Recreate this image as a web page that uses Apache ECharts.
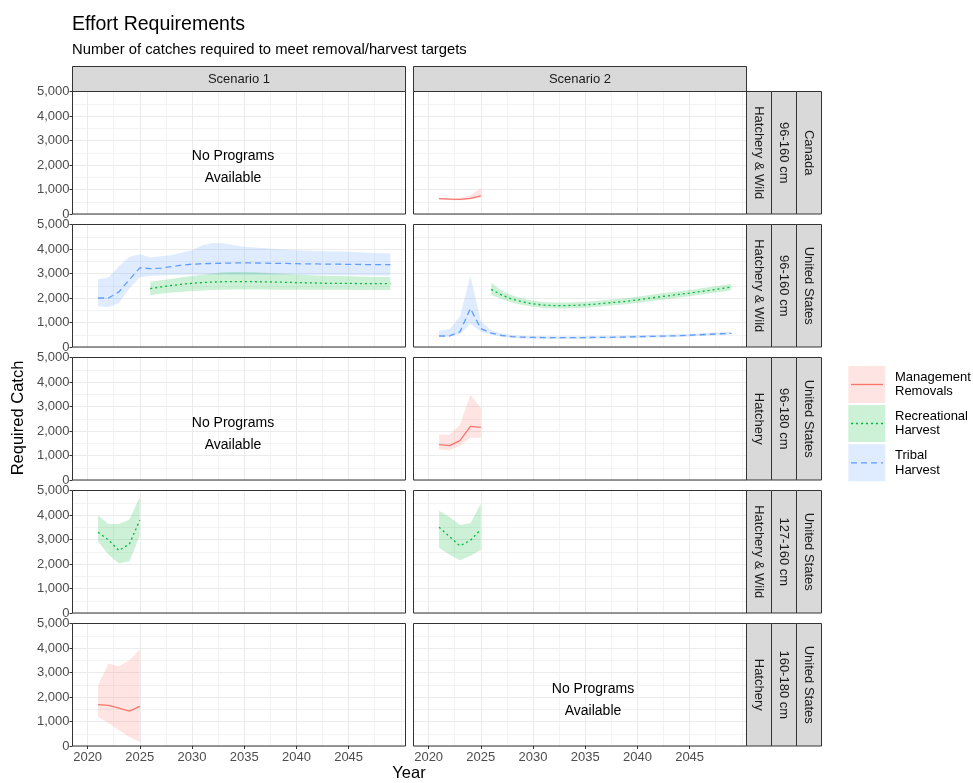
<!DOCTYPE html>
<html><head><meta charset="utf-8">
<script src="https://cdn.jsdelivr.net/npm/echarts@6/dist/echarts.min.js"></script>
<style>html,body{margin:0;padding:0;background:#fff}#c{width:973px;height:783px}</style>
</head><body><div id="c"></div><script>
// ---------- DATA ----------
const scenarios = ['Scenario 1', 'Scenario 2'];
const rowStrips = [
  ['Hatchery & Wild', '96-160 cm', 'Canada'],
  ['Hatchery & Wild', '96-160 cm', 'United States'],
  ['Hatchery', '96-180 cm', 'United States'],
  ['Hatchery & Wild', '127-160 cm', 'United States'],
  ['Hatchery', '160-180 cm', 'United States']
];
const xTickLabels = [2020, 2025, 2030, 2035, 2040, 2045];
const xMinorBreaks = [2022.5, 2027.5, 2032.5, 2037.5, 2042.5, 2047.5, 2050];
const yTicks = [0, 1000, 2000, 3000, 4000, 5000];

const years2021to2025 = [2021, 2022, 2023, 2024, 2025];
const years2021to2049 = [2021,2022,2023,2024,2025,2026,2027,2028,2029,2030,2031,2032,2033,2034,2035,2036,2037,2038,2039,2040,2041,2042,2043,2044,2045,2046,2047,2048,2049];
const years2026to2049 = [2026,2027,2028,2029,2030,2031,2032,2033,2034,2035,2036,2037,2038,2039,2040,2041,2042,2043,2044,2045,2046,2047,2048,2049];

// Canada 96-160, Scenario 2 - Management Removals
const caS2Mgmt   = [630, 610, 600, 640, 740];
const caS2MgmtHi = [670, 650, 650, 760, 1060];
const caS2MgmtLo = [590, 570, 560, 590, 660];

// US 96-160 H&W, Scenario 1 - Tribal
const us96S1Trib   = [2000,2000,2250,2750,3230,3200,3220,3280,3340,3380,3400,3410,3420,3430,3430,3430,3420,3410,3410,3400,3390,3390,3380,3380,3370,3370,3360,3360,3360];
const us96S1TribHi = [2770,2840,3300,3680,3790,3650,3700,3750,3850,3950,4150,4250,4230,4150,4090,4060,4030,4000,3970,3950,3930,3920,3910,3900,3890,3870,3850,3830,3815];
const us96S1TribLo = [1660,1620,1800,2400,2850,2900,2920,2940,2950,2950,2950,2950,2950,2950,2950,2950,2950,2950,2950,2950,2940,2940,2940,2930,2930,2930,2920,2920,2920];
// US 96-160 H&W, Scenario 1 - Recreational
const us96S1Rec   = [2385,2450,2510,2560,2600,2630,2650,2665,2670,2670,2665,2660,2650,2640,2630,2620,2610,2600,2600,2595,2590,2590,2590,2590];
const us96S1RecHi = [2660,2720,2780,2850,2900,2950,3000,3050,3060,3060,3050,3030,3000,2980,2960,2940,2920,2910,2900,2890,2880,2870,2860,2860];
const us96S1RecLo = [2110,2170,2220,2260,2290,2310,2330,2340,2345,2345,2345,2345,2340,2340,2340,2340,2340,2335,2335,2335,2330,2330,2330,2330];

// US 96-160 H&W, Scenario 2 - Tribal
const us96S2Trib   = [450,450,620,1570,750,570,470,420,400,390,385,380,380,380,385,390,395,400,410,420,430,440,450,460,480,500,520,540,560];
const us96S2TribHi = [660,720,1250,2900,1050,680,560,490,460,450,445,440,440,440,445,450,455,460,470,480,490,500,510,520,540,560,580,600,620];
const us96S2TribLo = [420,420,520,950,620,500,420,370,350,340,335,330,330,330,335,340,345,350,360,370,380,390,400,410,430,450,470,490,510];
// US 96-160 H&W, Scenario 2 - Recreational
const us96S2Rec   = [2350,2120,1950,1840,1760,1710,1690,1690,1700,1720,1750,1790,1830,1870,1920,1980,2040,2090,2150,2200,2260,2320,2380,2450];
const us96S2RecHi = [2620,2300,2100,1980,1890,1840,1820,1820,1830,1850,1880,1920,1960,2000,2050,2110,2170,2220,2280,2330,2390,2450,2510,2580];
const us96S2RecLo = [2120,1960,1810,1710,1640,1590,1570,1570,1580,1600,1630,1670,1710,1750,1800,1860,1910,1960,2020,2070,2130,2190,2250,2320];

// US 96-180 Hatchery, Scenario 2 - Management Removals
const us180S2Mgmt   = [1440, 1400, 1610, 2190, 2150];
const us180S2MgmtHi = [1850, 1850, 2260, 3480, 2940];
const us180S2MgmtLo = [1240, 1210, 1400, 1720, 1720];

// US 127-160 H&W - Recreational
const us127S1Rec   = [3290, 2980, 2550, 2820, 3790];
const us127S1RecHi = [3990, 3630, 3630, 3820, 4730];
const us127S1RecLo = [2920, 2380, 2020, 2110, 3150];
const us127S2Rec   = [3500, 3120, 2740, 2960, 3420];
const us127S2RecHi = [4170, 3920, 3590, 3660, 4460];
const us127S2RecLo = [2650, 2380, 2150, 2340, 2580];

// US 160-180 Hatchery, Scenario 1 - Management Removals
const us160S1Mgmt   = [1690, 1660, 1550, 1420, 1620];
const us160S1MgmtHi = [2480, 3370, 3260, 3500, 3940];
const us160S1MgmtLo = [1190, 940, 640, 370, 160];

const legendNames = ['Management\nRemovals', 'Recreational\nHarvest', 'Tribal\nHarvest'];
const noProgramText = 'No Programs\nAvailable';

// ---------- STYLE / LAYOUT ----------
const FONT = '"Liberation Sans", Arial, Helvetica, sans-serif';
const COLORS = { mgmt: '#F8766D', rec: '#00BA38', trib: '#619CFF' };
const DASH = { mgmt: 'solid', rec: [2, 3], trib: [6, 4] };
const COL_LEFT = [72.5, 413.5];
const COL_W = 333;
const ROW_TOP = [91.5, 224.5, 357.5, 490.5, 623.5];
const ROW_H = 122.5;
const X_MIN = 2018.55, X_MAX = 2050.45;

const panels = [
  { r: 0, c: 0, none: true },
  { r: 0, c: 1, s: [['mgmt', years2021to2025, caS2Mgmt, caS2MgmtLo, caS2MgmtHi]] },
  { r: 1, c: 0, s: [['trib', years2021to2049, us96S1Trib, us96S1TribLo, us96S1TribHi], ['rec', years2026to2049, us96S1Rec, us96S1RecLo, us96S1RecHi]] },
  { r: 1, c: 1, s: [['trib', years2021to2049, us96S2Trib, us96S2TribLo, us96S2TribHi], ['rec', years2026to2049, us96S2Rec, us96S2RecLo, us96S2RecHi]] },
  { r: 2, c: 0, none: true },
  { r: 2, c: 1, s: [['mgmt', years2021to2025, us180S2Mgmt, us180S2MgmtLo, us180S2MgmtHi]] },
  { r: 3, c: 0, s: [['rec', years2021to2025, us127S1Rec, us127S1RecLo, us127S1RecHi]] },
  { r: 3, c: 1, s: [['rec', years2021to2025, us127S2Rec, us127S2RecLo, us127S2RecHi]] },
  { r: 4, c: 0, s: [['mgmt', years2021to2025, us160S1Mgmt, us160S1MgmtLo, us160S1MgmtHi]] },
  { r: 4, c: 1, none: true }
];
const noProgramPos = [[233, 167], [233, 434], [593, 700]];

const grids = [], xAxes = [], yAxes = [], series = [], graphics = [];

panels.forEach((p, i) => {
  const left = COL_LEFT[p.c], top = ROW_TOP[p.r];
  grids.push({ left: left, top: top, width: COL_W, height: ROW_H, show: true,
    backgroundColor: '#fff', borderWidth: 0, containLabel: false });
  const bottom = p.r === 4;
  xAxes.push({ type: 'value', gridIndex: i, min: X_MIN, max: X_MAX, position: 'bottom',
    axisLine: { show: false },
    axisTick: { show: bottom, length: 3, lineStyle: { color: '#333' }, customValues: xTickLabels },
    axisLabel: { show: bottom, customValues: xTickLabels, color: '#4d4d4d', fontSize: 13, margin: 5, fontFamily: FONT,
      formatter: v => String(v) },
    splitLine: { show: true, lineStyle: { color: '#ebebeb', width: 1 } } });
  yAxes.push({ type: 'value', gridIndex: i, min: 0, max: 5000, interval: 1000,
    axisLine: { show: false },
    axisTick: { show: p.c === 0, length: 3, lineStyle: { color: '#333' } },
    axisLabel: { show: p.c === 0, color: '#4d4d4d', fontSize: 13, margin: 3, fontFamily: FONT,
      formatter: v => v.toLocaleString('en-US') },
    splitLine: { show: true, lineStyle: { color: '#ebebeb', width: 1 } },
    minorTick: { show: false, splitNumber: 2 },
    minorSplitLine: { show: true, lineStyle: { color: '#f0f0f0', width: 0.8 } } });
  (p.s || []).forEach(([kind, yrs, mid, lo, hi]) => {
    const col = COLORS[kind];
    series.push({ type: 'custom', xAxisIndex: i, yAxisIndex: i, silent: true, z: 1,
      data: yrs.map((y, k) => [y, lo[k], hi[k]]),
      encode: { x: 0, y: [1, 2] },
      renderItem: (params, api) => {
        if (params.dataIndex !== 0) return null;
        const pts = [];
        for (let k = 0; k < yrs.length; k++) pts.push(api.coord([yrs[k], hi[k]]));
        for (let k = yrs.length - 1; k >= 0; k--) pts.push(api.coord([yrs[k], lo[k]]));
        return { type: 'polygon', shape: { points: pts }, style: { fill: col, opacity: 0.2 } };
      } });
    series.push({ type: 'line', xAxisIndex: i, yAxisIndex: i, silent: true, z: 3,
      data: yrs.map((y, k) => [y, mid[k]]), symbol: 'none', showSymbol: false,
      lineStyle: { color: col, width: 1.3, type: DASH[kind] } });
  });
  graphics.push({ type: 'rect', z: 95, shape: { x: left, y: top, width: COL_W, height: ROW_H },
    style: { fill: null, stroke: '#333', lineWidth: 1 } });
});
panels.forEach((p, i) => {
  xAxes.push({ type: 'value', gridIndex: i, min: X_MIN, max: X_MAX, position: 'top',
    axisLine: { show: false }, axisLabel: { show: false },
    axisTick: { show: false, customValues: xMinorBreaks },
    splitLine: { show: true, lineStyle: { color: '#f0f0f0', width: 0.8 } } });
});

// ---------- non-data graphics ----------
const txt = (x, y, text, size, opts = {}) => ({ type: 'text', x, y, rotation: opts.rot || 0, z: 100,
  style: { text, font: 'normal ' + size + 'px ' + FONT, fill: opts.fill || '#000',
    align: opts.align || 'left', verticalAlign: 'middle', lineHeight: opts.lh || size * 1.15 } });

graphics.push(txt(72, 25, 'Effort Requirements', 19.5));
graphics.push(txt(72, 49.5, 'Number of catches required to meet removal/harvest targets', 14.8));
scenarios.forEach((s, c) => {
  graphics.push({ type: 'rect', z: 90, shape: { x: COL_LEFT[c], y: 66.5, width: COL_W, height: 25 },
    style: { fill: '#d9d9d9', stroke: '#333', lineWidth: 1 } });
  graphics.push(txt(COL_LEFT[c] + COL_W / 2, 79, s, 13, { align: 'center', fill: '#1a1a1a' }));
});
const SX = COL_LEFT[1] + COL_W, SW = 25;
rowStrips.forEach((labels, r) => {
  labels.forEach((lab, j) => {
    const x0 = SX + j * SW;
    graphics.push({ type: 'rect', z: 90, shape: { x: x0, y: ROW_TOP[r], width: SW, height: ROW_H },
      style: { fill: '#d9d9d9', stroke: '#333', lineWidth: 1 } });
    graphics.push(txt(x0 + SW / 2, ROW_TOP[r] + ROW_H / 2, lab, 13, { align: 'center', rot: -Math.PI / 2, fill: '#1a1a1a' }));
  });
});
graphics.push(txt(18, 418, 'Required Catch', 16.5, { align: 'center', rot: Math.PI / 2 }));
graphics.push(txt(409, 773, 'Year', 16.5, { align: 'center' }));
noProgramPos.forEach(([x, y]) => graphics.push(txt(x, y, noProgramText, 14, { align: 'center', lh: 22 })));
const legKinds = ['mgmt', 'rec', 'trib'];
const legTop = [366, 405, 444.3];
legKinds.forEach((k, j) => {
  const y0 = legTop[j];
  graphics.push({ type: 'rect', z: 90, shape: { x: 848.3, y: y0, width: 37, height: 37 },
    style: { fill: COLORS[k], opacity: 0.2 } });
  graphics.push({ type: 'line', z: 91, shape: { x1: 851, y1: y0 + 18.5, x2: 883, y2: y0 + 18.5 },
    style: { stroke: COLORS[k], lineWidth: 1.3, lineDash: DASH[k] === 'solid' ? null : DASH[k] } });
  graphics.push(txt(895, y0 + 18.5, legendNames[j], 13, { lh: 14.5 }));
});

const chart = echarts.init(document.getElementById('c'));
chart.setOption({
  animation: false,
  backgroundColor: '#fff',
  textStyle: { fontFamily: FONT },
  grid: grids, xAxis: xAxes, yAxis: yAxes, series: series, graphic: graphics
});
</script></body></html>
